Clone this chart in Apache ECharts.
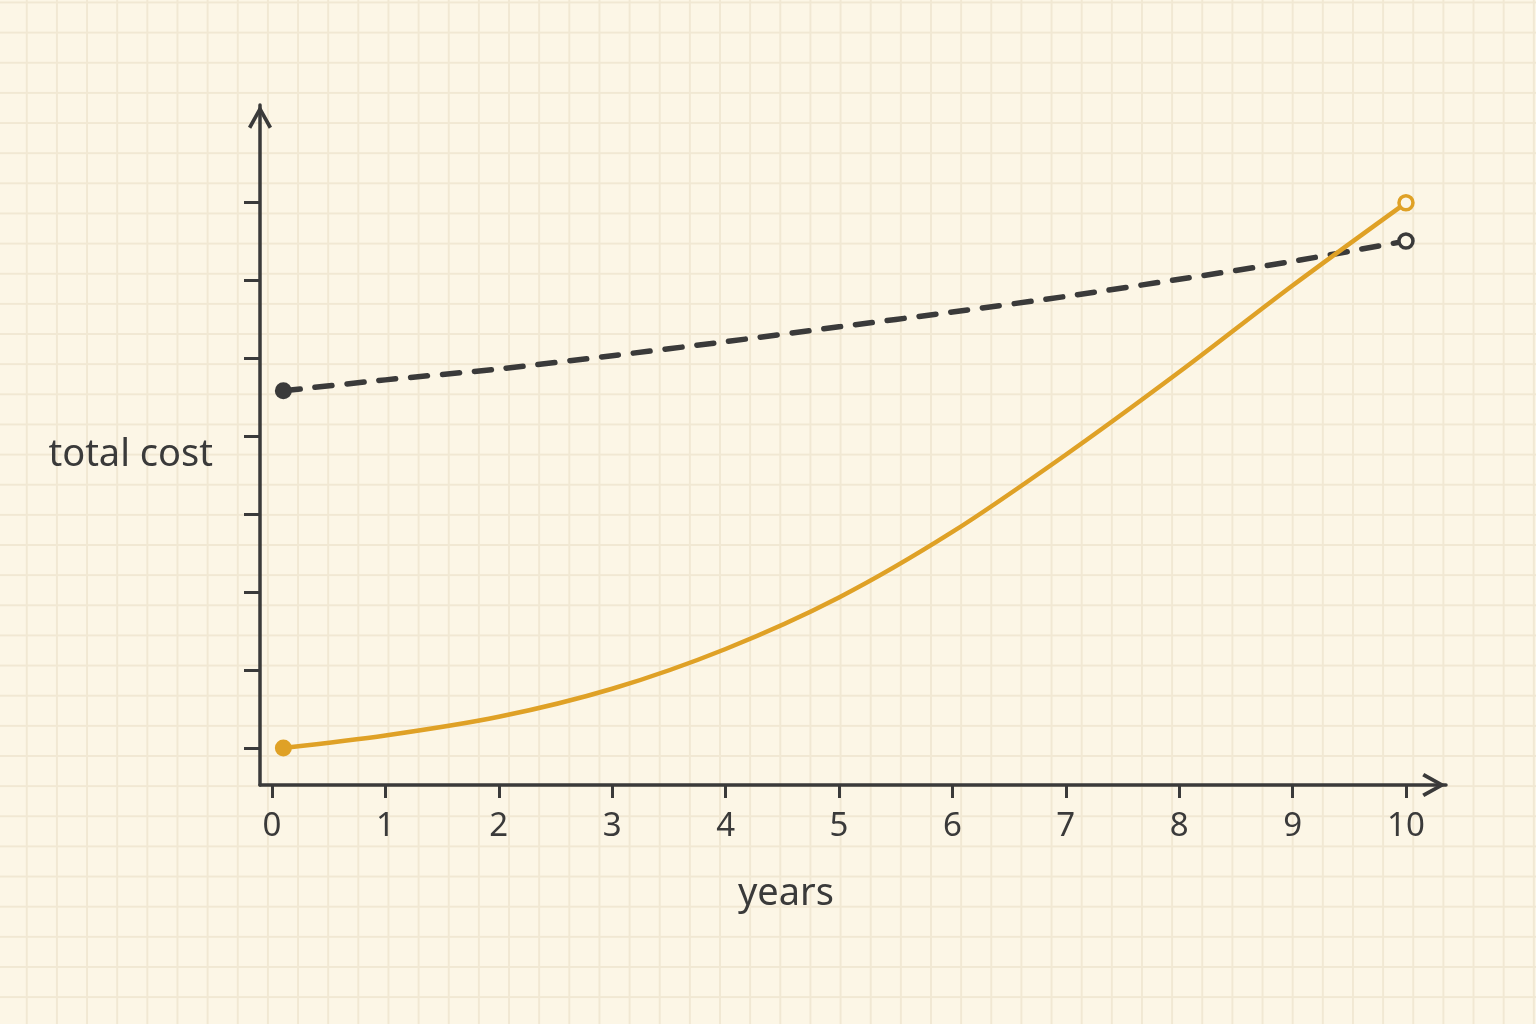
<!DOCTYPE html>
<html>
<head>
<meta charset="utf-8">
<script src="https://cdn.jsdelivr.net/npm/echarts@6/dist/echarts.min.js"></script>
<style>
  html,body{margin:0;padding:0;}
  body{
    width:1536px;height:1024px;overflow:hidden;
    background-color:#fcf6e6;
    background-image:
      linear-gradient(to right, #f1e8d3 1.5px, transparent 1.5px),
      linear-gradient(to bottom, #f1e8d3 1.5px, transparent 1.5px);
    background-size:30.15px 30.15px;
    background-position:25.8px 1.5px;
  }
  #chart{width:1536px;height:1024px;}
</style>
</head>
<body>
<div id="chart"></div>
<script>
// x positions (years) and y values, y in tick units
const years      = [0.1, 1, 2, 3, 4, 5, 6, 7, 8, 9, 10];
const growCost   = [0, 0.16, 0.40, 0.76, 1.27, 1.93, 2.77, 3.76, 4.82, 5.93, 6.99];
const flatCost   = [4.58, 4.72, 4.86, 5.03, 5.21, 5.40, 5.59, 5.79, 6.01, 6.24, 6.50];
const xTicks     = [0, 1, 2, 3, 4, 5, 6, 7, 8, 9, 10];
const yTicks     = [0, 1, 2, 3, 4, 5, 6, 7];

const ink='#3a3a3a', amber='#dfa126', paper='#fcf6e6';
const chevron='path://M12 0 L24 21.5 L20.8 23.5 L12 7.5 L3.2 23.5 L0 21.5 Z';

function pts(vals,color){
  return vals.map((v,i)=>{
    const p={value:[years[i],v]};
    if(i===0){
      p.symbol='circle';p.symbolSize=17;
      p.itemStyle={color:color,borderWidth:0};
    }else if(i===vals.length-1){
      p.symbol='circle';p.symbolSize=14;
      p.itemStyle={color:paper,borderColor:color,borderWidth:3.5};
    }else{
      p.symbol='none';
    }
    return p;
  });
}

const chart=echarts.init(document.getElementById('chart'),null,{renderer:'canvas'});
chart.setOption({
  backgroundColor:'transparent',
  animation:false,
  textStyle:{fontFamily:'Noto Sans'},
  grid:{left:260,right:90,top:105,bottom:239,containLabel:false},
  xAxis:{
    type:'value',min:-0.106,max:10.353,
    name:'years',nameLocation:'middle',nameGap:90,
    nameTextStyle:{color:ink,fontSize:38,padding:[0,134,0,0]},
    axisLine:{show:true,onZero:false,lineStyle:{color:ink,width:3.5},
      symbol:['none',chevron],symbolSize:[24,24],symbolOffset:[0,-12]},
    axisTick:{show:true,length:13,lineStyle:{color:ink,width:3},customValues:xTicks},
    axisLabel:{color:ink,fontSize:33,margin:25,customValues:xTicks},
    splitLine:{show:false}
  },
  yAxis:{
    type:'value',min:-0.474,max:8.244,
    name:'total cost',nameLocation:'middle',nameRotate:0,nameGap:47,
    nameTextStyle:{color:ink,fontSize:38,verticalAlign:'top',lineHeight:20},
    axisLine:{show:true,onZero:false,lineStyle:{color:ink,width:3.5},
      symbol:['none',chevron],symbolSize:[24,24],symbolOffset:[0,-12]},
    axisTick:{show:true,length:16,lineStyle:{color:ink,width:3},customValues:yTicks},
    axisLabel:{show:false},
    splitLine:{show:false}
  },
  series:[
    {
      type:'line',smooth:0.3,data:pts(flatCost,ink),
      lineStyle:{color:ink,width:5.5,type:[17,15],cap:'round'},
      itemStyle:{color:ink},z:2
    },
    {
      type:'line',smooth:0.3,data:pts(growCost,amber),
      lineStyle:{color:amber,width:4.5,cap:'round'},
      itemStyle:{color:amber},z:3
    }
  ]
});
</script>
</body>
</html>
